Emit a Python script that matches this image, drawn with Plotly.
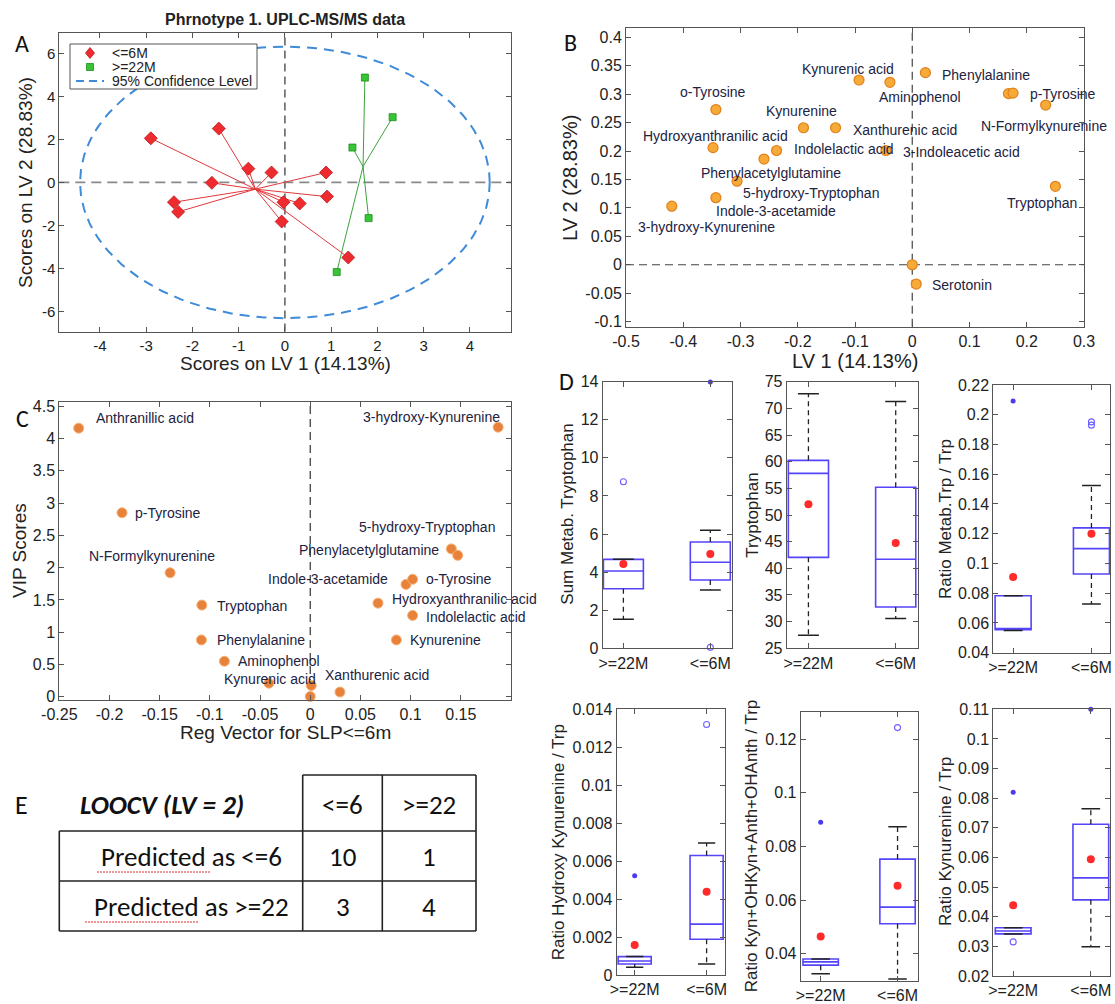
import numpy as np
import plotly.graph_objects as go

W, H = 1115, 1004
FONT = "Liberation Sans, Arial, Helvetica, sans-serif"
CAL = "Carlito, Lato, Calibri, sans-serif"

# ---------------- Panel A : PLS-DA scores ----------------
A_TITLE = "Phrnotype 1. UPLC-MS/MS data"
A_GROUPS = ["<=6M", ">=22M", "95% Confidence Level"]
A_LE6_LV1 = [-2.90, -1.43, -0.79, -0.29, -1.58, 0.89, -2.40, -2.31, -0.03, 0.32, 0.91, -0.07, 1.37]
A_LE6_LV2 = [2.05, 2.50, 0.64, 0.46, -0.02, 0.46, -0.92, -1.37, -0.92, -0.98, -0.66, -1.82, -3.49]
A_GE22_LV1 = [1.73, 2.33, 1.46, 1.81, 1.12]
A_GE22_LV2 = [4.87, 3.03, 1.62, -1.66, -4.17]
A_CONF_SEMI_AXES = [4.43, 6.31]
A_XTICKS = [-4, -3, -2, -1, 0, 1, 2, 3, 4]
A_YTICKS = [-6, -4, -2, 0, 2, 4, 6]

# ---------------- Panel B : loadings ----------------
B_NAMES = ["Kynurenic acid", "Aminophenol", "Phenylalanine", "", "p-Tyrosine",
           "N-Formylkynurenine", "o-Tyrosine", "Kynurenine", "Xanthurenic acid",
           "Hydroxyanthranilic acid", "Indolelactic acid", "3-Indoleacetic acid",
           "Phenylacetylglutamine", "5-hydroxy-Tryptophan", "Indole-3-acetamide",
           "3-hydroxy-Kynurenine", "Tryptophan", "", "Serotonin"]
B_LV1 = [-0.093, -0.039, 0.023, 0.168, 0.176, 0.233, -0.343, -0.190, -0.134, -0.348,
         -0.237, -0.046, -0.259, -0.306, -0.343, -0.420, 0.250, 0.0, 0.007]
B_LV2 = [0.325, 0.321, 0.338, 0.301, 0.302, 0.281, 0.273, 0.241, 0.241, 0.206,
         0.201, 0.201, 0.186, 0.147, 0.118, 0.103, 0.138, 0.0, -0.034]
B_XTICKS = [-0.5, -0.4, -0.3, -0.2, -0.1, 0, 0.1, 0.2, 0.3]
B_YTICKS = [-0.1, -0.05, 0, 0.05, 0.1, 0.15, 0.2, 0.25, 0.3, 0.35, 0.4]

# ---------------- Panel C : VIP vs regression vector ----------------
C_NAMES = ["Anthranillic acid", "3-hydroxy-Kynurenine", "p-Tyrosine", "5-hydroxy-Tryptophan",
           "Phenylacetylglutamine", "N-Formylkynurenine", "Indole-3-acetamide", "o-Tyrosine",
           "Tryptophan", "Hydroxyanthranilic acid", "Indolelactic acid", "Phenylalanine",
           "Kynurenine", "Aminophenol", "Kynurenic acid", "", "Xanthurenic acid", ""]
C_REG = [-0.2307, 0.1872, -0.1875, 0.1406, 0.1469, -0.1396, 0.0954, 0.102, -0.108, 0.0675,
         0.102, -0.1084, 0.0858, -0.0855, -0.0412, 0.001, 0.0296, 0.0]
C_VIP = [4.16, 4.175, 2.85, 2.29, 2.19, 1.92, 1.74, 1.82, 1.42, 1.45,
         1.26, 0.88, 0.88, 0.55, 0.21, 0.175, 0.073, 0.005]
C_XTICKS = [-0.25, -0.2, -0.15, -0.1, -0.05, 0, 0.05, 0.1, 0.15]
C_YTICKS = [0, 0.5, 1, 1.5, 2, 2.5, 3, 3.5, 4, 4.5]

# ---------------- Panel D : box plots ----------------
D_CATEGORIES = [">=22M", "<=6M"]
D_YLABELS = ["Sum Metab. Tryptophan", "Tryptophan", "Ratio Metab.Trp / Trp",
             "Ratio Hydroxy Kynurenine / Trp", "Ratio Kyn+OHKyn+Anth+OHAnth / Trp",
             "Ratio Kynurenine / Trp"]
D_Q1 = [[3.13, 3.59], [42.06, 32.75], [0.0555, 0.0929], [0.00058, 0.00188], [0.0358, 0.0512], [0.0342, 0.0457]]
D_MEDIAN = [[4.06, 4.52], [57.8, 41.7], [0.0555, 0.110], [0.00074, 0.00268], [0.0370, 0.0574], [0.0352, 0.0531]]
D_Q3 = [[4.67, 5.58], [60.25, 55.2], [0.0783, 0.1239], [0.00097, 0.0063], [0.0381, 0.0753], [0.0363, 0.0712]]
D_WHISK_LO = [[1.52, 3.06], [27.44, 30.6], [0.0549, 0.0727], [0.000405, 0.00058], [0.0326, 0.0306], [0.0342, 0.0299]]
D_WHISK_HI = [[4.67, 6.2], [72.75, 71.3], [0.0783, 0.1525], [0.00097, 0.00696], [0.0381, 0.0874], [0.0363, 0.0764]]
D_MEAN = [[4.43, 4.95], [52.0, 44.75], [0.0909, 0.120], [0.00158, 0.00438], [0.0465, 0.0654], [0.0439, 0.0594]]
D_OUT_OPEN = [[[8.75], [0.05]], [[], []], [[], [0.1952, 0.193]], [[], [0.0132]], [[], [0.1243]], [[0.0315], []]]
D_OUT_FILLED = [[[], [13.98]], [[], []], [[0.2092], []], [[0.00523], []], [[0.089], []], [[0.082], [0.11]]]
D_YRANGE = [[0, 14], [25, 75], [0.04, 0.22], [0, 0.014], [0.03, 0.13], [0.02, 0.11]]
D_YTICK0 = [0, 25, 0.04, 0, 0.04, 0.02]
D_YDTICK = [2, 5, 0.02, 0.002, 0.02, 0.01]

# ---------------- Panel E : LOOCV table ----------------
E_TITLE = "LOOCV (LV = 2)"
E_COLS = ["<=6", ">=22"]
E_ROWS = ["Predicted as <=6", "Predicted as >=22"]
E_VALUES = [[10, 1], [3, 4]]

# ======================================================================
def esc(s):
    return s.replace("&", "&amp;").replace("<", "&lt;").replace(">", "&gt;")

def px(x):
    return x / W

def py(y):
    return 1 - y / H

def ttext(vals):
    return [f"{v:g}" for v in vals]

AXC = "#555555"
TXT = "#222222"
LABEL_C = "#22223f"

def axis(l, r, rng, size=15, **kw):
    d = dict(domain=[px(l), px(r)], range=rng, showline=True, linecolor=AXC, linewidth=1,
             mirror="ticks", ticks="inside", ticklen=5, tickcolor=AXC, showgrid=False,
             zeroline=False, automargin=False, tickfont=dict(size=size, color=TXT, family=FONT))
    d.update(kw)
    return d

def yaxis(t, b, rng, size=15, **kw):
    d = dict(domain=[py(b), py(t)], range=rng, showline=True, linecolor=AXC, linewidth=1,
             mirror="ticks", ticks="inside", ticklen=5, tickcolor=AXC, showgrid=False,
             zeroline=False, automargin=False, tickfont=dict(size=size, color=TXT, family=FONT))
    d.update(kw)
    return d

fig = go.Figure()
annotations = []
shapes = []

def text_ann(x, y, text, size, angle=0, family=FONT, color=TXT, xanchor="center"):
    annotations.append(dict(x=px(x), y=py(y), xref="paper", yref="paper", text=text,
                            showarrow=False, textangle=angle, xanchor=xanchor, yanchor="middle",
                            font=dict(size=size, family=family, color=color)))

# ---------------- A ----------------
RED, GREEN, BLUE_E = "#EE2B2E", "#35C535", "#3F8BD8"
le6x, le6y = np.array(A_LE6_LV1), np.array(A_LE6_LV2)
ge22x, ge22y = np.array(A_GE22_LV1), np.array(A_GE22_LV2)

def spokes(xs, ys):
    cx, cy = xs.mean(), ys.mean()
    sx, sy = [], []
    for a, b in zip(xs, ys):
        sx += [cx, a, None]
        sy += [cy, b, None]
    return sx, sy

sx, sy = spokes(le6x, le6y)
fig.add_trace(go.Scatter(x=sx, y=sy, mode="lines", line=dict(color="#E0383C", width=1),
                         showlegend=False, hoverinfo="skip", xaxis="x", yaxis="y"))
sx, sy = spokes(ge22x, ge22y)
fig.add_trace(go.Scatter(x=sx, y=sy, mode="lines", line=dict(color="#3CA23C", width=1),
                         showlegend=False, hoverinfo="skip", xaxis="x", yaxis="y"))
t = np.linspace(0, 2 * np.pi, 240)
fig.add_trace(go.Scatter(x=A_CONF_SEMI_AXES[0] * np.cos(t), y=A_CONF_SEMI_AXES[1] * np.sin(t),
                         mode="lines", name=esc(A_GROUPS[2]), showlegend=False,
                         line=dict(color=BLUE_E, width=2, dash="10px,7px"), xaxis="x", yaxis="y"))
fig.add_trace(go.Scatter(x=le6x, y=le6y, mode="markers", name=esc(A_GROUPS[0]), showlegend=False,
                         marker=dict(symbol="diamond", size=10, color=RED,
                                     line=dict(color="#B81A1E", width=0.8)),
                         xaxis="x", yaxis="y"))
fig.add_trace(go.Scatter(x=ge22x, y=ge22y, mode="markers", name=esc(A_GROUPS[1]), showlegend=False,
                         marker=dict(symbol="square", size=7, color=GREEN,
                                     line=dict(color="#1F8A1F", width=0.8)),
                         xaxis="x", yaxis="y"))
shapes.append(dict(type="line", xref="x", yref="y domain", x0=0, x1=0, y0=0, y1=1,
                   line=dict(color="#333", width=1.2, dash="8px,5px"), layer="below"))
shapes.append(dict(type="line", xref="x domain", yref="y", x0=0, x1=1, y0=0, y1=0,
                   line=dict(color="#8a8a8a", width=1.6, dash="10px,6px"), layer="below"))

# manual legend box for panel A
shapes.append(dict(type="rect", xref="paper", yref="paper", x0=px(70), x1=px(257), y0=py(44), y1=py(89),
                   line=dict(color="#555", width=1), fillcolor="white", layer="above"))
shapes.append(dict(type="path", xref="paper", yref="paper",
                   path=f"M {px(90)},{py(47.5)} L {px(94.5)},{py(53)} L {px(90)},{py(58.5)} L {px(85.5)},{py(53)} Z",
                   line=dict(color="#B81A1E", width=0.8), fillcolor=RED, layer="above"))
shapes.append(dict(type="rect", xref="paper", yref="paper", x0=px(86.5), x1=px(93.5), y0=py(63.5), y1=py(70.5),
                   line=dict(color="#1F8A1F", width=0.8), fillcolor=GREEN, layer="above"))
shapes.append(dict(type="line", xref="paper", yref="paper", x0=px(76), x1=px(104), y0=py(81), y1=py(81),
                   line=dict(color=BLUE_E, width=2, dash="8px,5px"), layer="above"))
for k, g in enumerate(A_GROUPS):
    text_ann(110, 53 + 14 * k, esc(g), 14, xanchor="left")

text_ann(285, 20, "<b>" + esc(A_TITLE) + "</b>", 16)
text_ann(285, 363, "Scores on LV 1 (14.13%)", 19)
text_ann(25, 183, "Scores on LV 2 (28.83%)", 19, angle=-90)

# ---------------- B ----------------
B_LABEL_POS = [("center", -11, -11), ("center", 30, 15), ("left", 15, 2), ("left", 0, 0),
               ("left", 15, 1), ("left", -67, 21), ("center", -3, -18), ("center", -2, -17),
               ("left", 15, 2), ("center", 2, -12), ("left", 15, -2), ("left", 15, 1),
               ("center", 7, 14), ("left", 4, 12), ("left", -2, 13), ("left", -36, 21),
               ("left", -50, 17), ("left", 0, 0), ("left", 14, 1)]
fig.add_trace(go.Scatter(x=B_LV1, y=B_LV2, mode="markers", showlegend=False,
                         marker=dict(size=10, color="#F6AA38", line=dict(color="#E2801C", width=1.2)),
                         text=B_NAMES, xaxis="x2", yaxis="y2", cliponaxis=False))
for n, x, y, (anc, dx, dy) in zip(B_NAMES, B_LV1, B_LV2, B_LABEL_POS):
    if n:
        annotations.append(dict(x=x, y=y, xref="x2", yref="y2", text=esc(n), showarrow=False,
                                xanchor=anc, yanchor="middle", xshift=dx, yshift=-dy,
                                font=dict(size=14, family=FONT, color=LABEL_C)))
shapes.append(dict(type="line", xref="x2", yref="y2 domain", x0=0, x1=0, y0=0, y1=1,
                   line=dict(color="#444", width=1.2, dash="8px,5px"), layer="below"))
shapes.append(dict(type="line", xref="x2 domain", yref="y2", x0=0, x1=1, y0=0, y1=0,
                   line=dict(color="#444", width=1.2, dash="8px,5px"), layer="below"))
text_ann(855, 361, "LV 1 (14.13%)", 20)
text_ann(570, 178, "LV 2 (28.83%)", 20, angle=-90)

# ---------------- C ----------------
C_LABEL_POS = [("left", 15, -10), ("right", 4, -10), ("left", 11, 0), ("right", 46, -22),
               ("right", -17, -5), ("center", -18, -17), ("right", -16, -5), ("left", 11, 0),
               ("left", 13, 1), ("left", 12, -4), ("left", 11, 2), ("left", 14, 0),
               ("left", 12, 0), ("left", 12, 0), ("center", 1, -4), ("left", 0, 0),
               ("center", 37, -17), ("left", 0, 0)]
fig.add_trace(go.Scatter(x=C_REG, y=C_VIP, mode="markers", showlegend=False,
                         marker=dict(size=10, color="#E8823A", line=dict(color="#F4B27A", width=1)),
                         text=C_NAMES, xaxis="x3", yaxis="y3", cliponaxis=False))
for n, x, y, (anc, dx, dy) in zip(C_NAMES, C_REG, C_VIP, C_LABEL_POS):
    if n:
        annotations.append(dict(x=x, y=y, xref="x3", yref="y3", text=esc(n), showarrow=False,
                                xanchor=anc, yanchor="middle", xshift=dx, yshift=-dy,
                                font=dict(size=14, family=FONT, color=LABEL_C)))
shapes.append(dict(type="line", xref="x3", yref="y3 domain", x0=0, x1=0, y0=0, y1=1,
                   line=dict(color="#333", width=1.2, dash="8px,5px"), layer="below"))
text_ann(285, 732, esc("Reg Vector for SLP<=6m"), 19)
text_ann(19, 551, "VIP Scores", 19, angle=-90)

# ---------------- D ----------------
D_FRAMES = [(602.7, 732.3, 381.7, 648.3), (786.7, 917.7, 381.7, 648.3), (993.3, 1110, 385, 652.7),
            (616.7, 725.3, 709.3, 975), (800.7, 918.3, 712.3, 980.7), (993.3, 1110, 709.3, 976)]
D_XRANGE = [(0.762, 2.253), (0.751, 2.252), (0.747, 2.237), (0.75, 2.26), (0.74, 2.27), (0.744, 2.247)]
D_YTITLE_POS = [(566.7, 514), (751.7, 515), (945, 519), (558.3, 842), (751.7, 846.5), (945, 842)]
BOXC = "rgb(84,68,250)"
CAP = 0.12
pos = [1, 2]
for i in range(6):
    xa, ya = f"x{i + 4}", f"y{i + 4}"
    wx, wy, cx, cy = [], [], [], []
    for g in range(2):
        p = pos[g]
        wx += [p, p, None, p, p, None]
        wy += [D_Q3[i][g], D_WHISK_HI[i][g], None, D_Q1[i][g], D_WHISK_LO[i][g], None]
        cx += [p - CAP, p + CAP, None, p - CAP, p + CAP, None]
        cy += [D_WHISK_HI[i][g], D_WHISK_HI[i][g], None, D_WHISK_LO[i][g], D_WHISK_LO[i][g], None]
    fig.add_trace(go.Scatter(x=wx, y=wy, mode="lines", showlegend=False, hoverinfo="skip",
                             line=dict(color="#222", width=1.3, dash="5px,4px"),
                             xaxis=xa, yaxis=ya, cliponaxis=False))
    fig.add_trace(go.Box(x=pos, q1=D_Q1[i], median=D_MEDIAN[i], q3=D_Q3[i],
                         lowerfence=D_Q1[i], upperfence=D_Q3[i], width=0.46, whiskerwidth=0,
                         line=dict(color=BOXC, width=1.6), fillcolor="rgba(0,0,0,0)",
                         boxpoints=False, showlegend=False, xaxis=xa, yaxis=ya))
    fig.add_trace(go.Scatter(x=cx, y=cy, mode="lines", showlegend=False, hoverinfo="skip",
                             line=dict(color="#222", width=1.5), xaxis=xa, yaxis=ya, cliponaxis=False))
    fig.add_trace(go.Scatter(x=pos, y=D_MEAN[i], mode="markers", showlegend=False,
                             marker=dict(size=8, color="#FF2B2B"), xaxis=xa, yaxis=ya))
    ox, oy, fx, fy = [], [], [], []
    for g in range(2):
        ox += [pos[g]] * len(D_OUT_OPEN[i][g])
        oy += D_OUT_OPEN[i][g]
        fx += [pos[g]] * len(D_OUT_FILLED[i][g])
        fy += D_OUT_FILLED[i][g]
    fig.add_trace(go.Scatter(x=ox, y=oy, mode="markers", showlegend=False, cliponaxis=False,
                             marker=dict(symbol="circle-open", size=6, color="#6F60FF",
                                         line=dict(width=1.1)), xaxis=xa, yaxis=ya))
    fig.add_trace(go.Scatter(x=fx, y=fy, mode="markers", showlegend=False, cliponaxis=False,
                             marker=dict(size=5, color="#4B3AF0"), xaxis=xa, yaxis=ya))
    l, r, tp, bt = D_FRAMES[i]
    xk = "xaxis" + str(i + 4)
    yk = "yaxis" + str(i + 4)
    fig.layout[xk] = axis(l, r, list(D_XRANGE[i]), size=16, anchor=ya, tickmode="array",
                          tickvals=pos, ticktext=[esc(c) for c in D_CATEGORIES])
    fig.layout[yk] = yaxis(tp, bt, D_YRANGE[i], size=16, anchor=xa, tick0=D_YTICK0[i],
                           dtick=D_YDTICK[i], tickmode="linear")
    tx, ty = D_YTITLE_POS[i]
    text_ann(tx, ty, D_YLABELS[i], 17, angle=-90)

# ---------------- E ----------------
ET, EH, R1, R2 = 775, 831, 881, 931
XL, XC1, XC2, XR = 59.3, 302.7, 382.3, 476
def pline(x0, y0, x1, y1):
    shapes.append(dict(type="line", xref="paper", yref="paper", x0=px(x0), y0=py(y0),
                       x1=px(x1), y1=py(y1), line=dict(color="#222", width=1.6)))
pline(XC1, ET, XR, ET)
pline(XL, EH, XR, EH)
pline(XL, R1, XR, R1)
pline(XL, R2, XR, R2)
pline(XL, EH, XL, R2)
for xv in (XC1, XC2, XR):
    pline(xv, ET, xv, R2)
ESZ = 27
text_ann(21.7, 805, "E", 26, family=CAL, color="#111")
text_ann(161.5, 804, "<b><i>" + esc(E_TITLE) + "</i></b>", ESZ, family=CAL, color="#111")
col_c = [(XC1 + XC2) / 2, (XC2 + XR) / 2]
row_c = [(EH + R1) / 2, (R1 + R2) / 2]
for j, c in enumerate(E_COLS):
    text_ann(col_c[j], 804, esc(c), ESZ, family=CAL, color="#111")
for k, rname in enumerate(E_ROWS):
    text_ann(191, row_c[k], esc(rname), ESZ, family=CAL, color="#111")
    for j in range(2):
        text_ann(col_c[j], row_c[k], str(E_VALUES[k][j]), ESZ, family=CAL, color="#111")
for k in range(2):
    shapes.append(dict(type="line", xref="paper", yref="paper", x0=px(97 - 12 * k), x1=px(210 - 12 * k),
                       y0=py(row_c[k] + 16), y1=py(row_c[k] + 16),
                       line=dict(color="#E03030", width=1, dash="2px,1px")))

# panel letters
for letter, (lx, ly) in zip("ABCD", [(21.7, 43.3), (570, 42.7), (22.7, 418), (566, 381.7)]):
    text_ann(lx, ly, letter, 24, family=CAL, color="#111")

fig.update_layout(
    width=W, height=H, autosize=False,
    margin=dict(l=0, r=0, t=0, b=0, pad=0),
    paper_bgcolor="white", plot_bgcolor="rgba(0,0,0,0)",
    font=dict(family=FONT, color=TXT),
    xaxis=axis(59.3, 511, [-4.88, 4.89], size=15, anchor="y", tickmode="array",
               tickvals=A_XTICKS, ticktext=ttext(A_XTICKS)),
    yaxis=yaxis(33.3, 331.5, [-6.93, 6.93], size=15, anchor="x", tickmode="array",
                tickvals=A_YTICKS, ticktext=ttext(A_YTICKS)),
    xaxis2=axis(626, 1084, [-0.5, 0.3], size=16, anchor="y2", tickmode="array",
                tickvals=B_XTICKS, ticktext=ttext(B_XTICKS)),
    yaxis2=yaxis(28.3, 326.7, [-0.109, 0.416], size=16, anchor="x2", tickmode="array",
                 tickvals=B_YTICKS, ticktext=ttext(B_YTICKS)),
    xaxis3=axis(59.3, 511, [-0.25, 0.2], size=16, anchor="y3", tickmode="array",
                tickvals=C_XTICKS, ticktext=ttext(C_XTICKS)),
    yaxis3=yaxis(401.7, 700, [-0.05, 4.57], size=16, anchor="x3", tickmode="array",
                 tickvals=C_YTICKS, ticktext=ttext(C_YTICKS)),
    showlegend=False,
    annotations=annotations,
    shapes=shapes,
)
fig.write_html("out.html", config={"displayModeBar": False},
               post_script="document.body.style.margin='0px';document.body.style.padding='0px';"
                           "document.documentElement.style.overflow='hidden';")
